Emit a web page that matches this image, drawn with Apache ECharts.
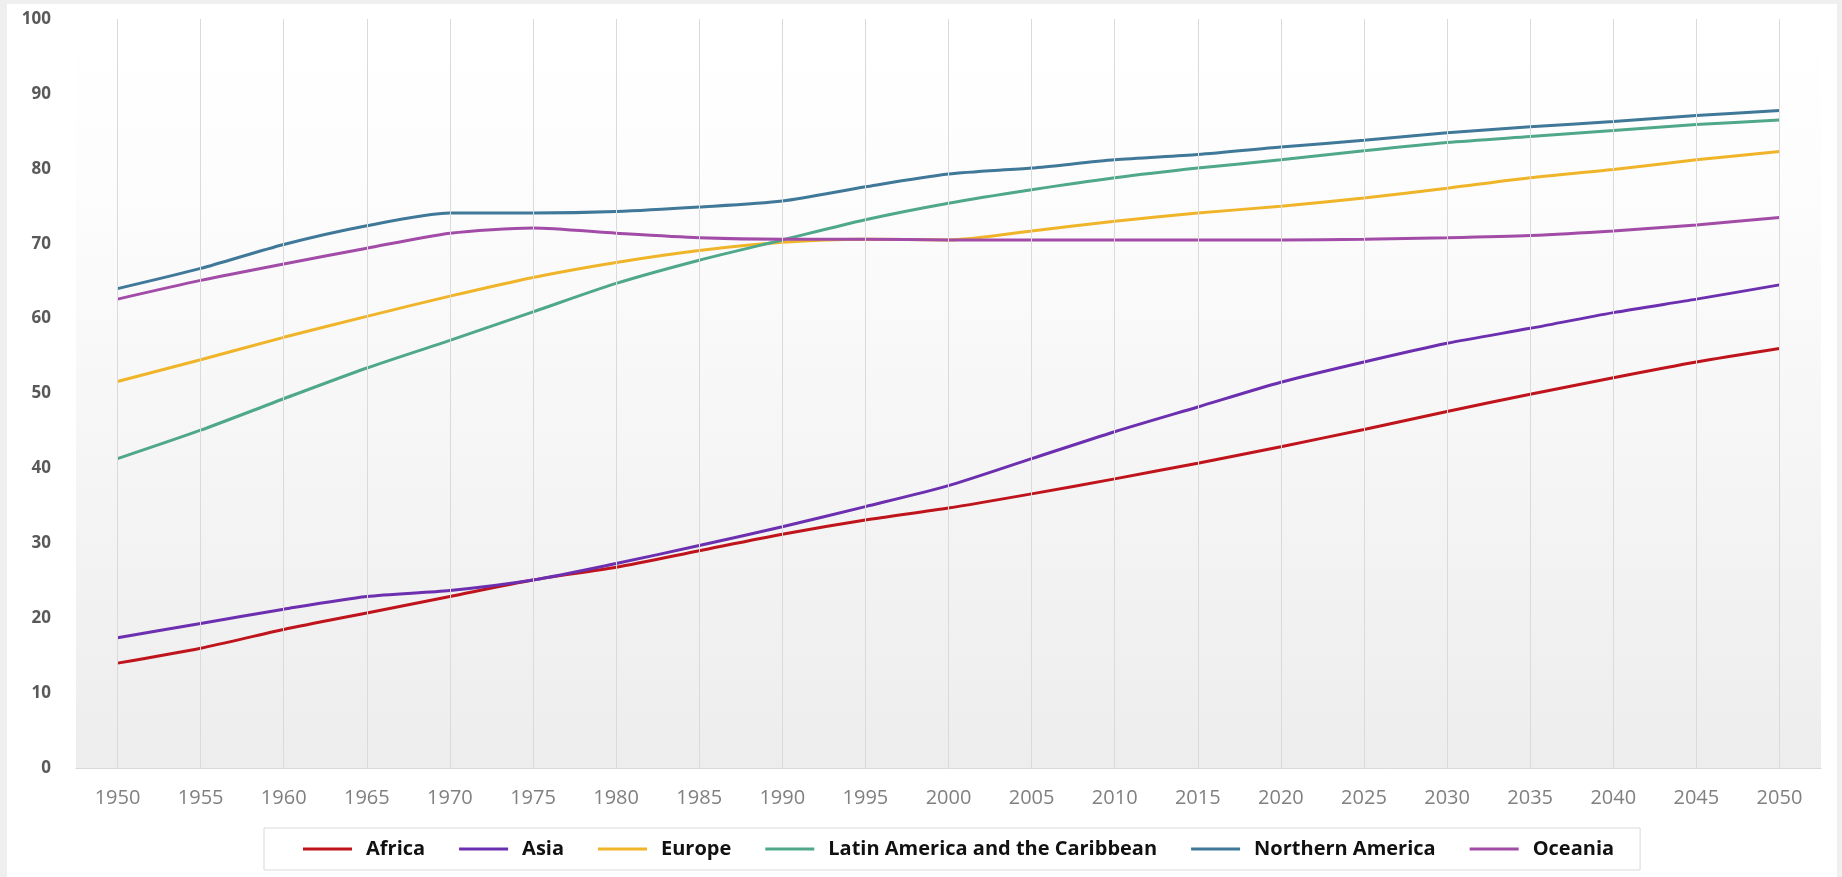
<!DOCTYPE html>
<html>
<head>
<meta charset="utf-8">
<script src="https://cdn.jsdelivr.net/npm/echarts@6/dist/echarts.min.js"></script>
<style>
  html, body { margin: 0; padding: 0; width: 1842px; height: 877px; background: #efefef; overflow: hidden; }
  #panel { position: absolute; left: 7px; top: 4px; width: 1830px; height: 873px; background: #ffffff; }
  #chart { position: absolute; left: 0; top: 0; width: 1842px; height: 877px; }
</style>
</head>
<body>
<div id="panel"></div>
<div id="chart"></div>
<script>
const years = ['1950','1955','1960','1965','1970','1975','1980','1985','1990','1995','2000','2005','2010','2015','2020','2025','2030','2035','2040','2045','2050'];
const yTicks = [0,10,20,30,40,50,60,70,80,90,100];
const africa   = [14.0,16.0,18.5,20.7,22.9,25.1,26.8,29.0,31.2,33.1,34.7,36.6,38.6,40.7,42.9,45.2,47.6,49.9,52.1,54.2,56.0];
const asia     = [17.4,19.3,21.2,22.9,23.7,25.1,27.3,29.7,32.2,34.9,37.7,41.3,44.9,48.2,51.5,54.2,56.7,58.7,60.8,62.6,64.5];
const europe   = [51.6,54.5,57.5,60.3,63.0,65.5,67.5,69.1,70.2,70.6,70.5,71.7,73.0,74.1,75.0,76.1,77.4,78.8,79.9,81.2,82.3];
const latam    = [41.3,45.1,49.3,53.4,57.1,60.9,64.7,67.8,70.5,73.2,75.4,77.2,78.8,80.1,81.2,82.4,83.5,84.3,85.1,85.9,86.5];
const northAm  = [64.0,66.7,69.9,72.4,74.1,74.1,74.3,74.9,75.7,77.6,79.3,80.1,81.2,81.9,82.9,83.8,84.8,85.6,86.3,87.1,87.8];
const oceania  = [62.6,65.1,67.3,69.4,71.4,72.1,71.4,70.8,70.6,70.6,70.5,70.5,70.5,70.5,70.5,70.6,70.8,71.1,71.7,72.5,73.5];

const seriesDefs = [
  { name: 'Africa', values: africa, color: '#c0141c' },
  { name: 'Asia', values: asia, color: '#6c2fb0' },
  { name: 'Europe', values: europe, color: '#f0b429' },
  { name: 'Latin America and the Caribbean', values: latam, color: '#4fa88a' },
  { name: 'Northern America', values: northAm, color: '#3f7898' },
  { name: 'Oceania', values: oceania, color: '#a24ca8' }
];

const chart = echarts.init(document.getElementById('chart'), null, { renderer: 'canvas' });

const gridSeries = {
  name: '__grid',
  type: 'line',
  z: 1,
  silent: true,
  data: years.map(() => null),
  symbol: 'none',
  lineStyle: { width: 0 },
  markLine: {
    silent: true,
    symbol: 'none',
    animation: false,
    label: { show: false },
    lineStyle: { color: '#dadada', width: 1, type: 'solid' },
    emphasis: { disabled: true },
    data: years.map(y => ({ xAxis: y }))
  }
};

chart.setOption({
  backgroundColor: 'transparent',
  animation: false,
  grid: {
    left: 76, right: 21, top: 19, bottom: 109,
    show: true,
    borderWidth: 0,
    backgroundColor: new echarts.graphic.LinearGradient(0, 0, 0, 1, [
      { offset: 0, color: '#ffffff' },
      { offset: 0.2, color: '#fdfdfd' },
      { offset: 1, color: '#ededed' }
    ])
  },
  xAxis: {
    type: 'category',
    data: years,
    boundaryGap: true,
    axisLine: { show: true, lineStyle: { color: '#d9d9d9', width: 1 } },
    axisTick: { show: false },
    splitLine: { show: false },
    axisLabel: {
      interval: 0, margin: 20, color: '#808080', fontSize: 20, fontFamily: 'Open Sans'
    }
  },
  yAxis: {
    type: 'value',
    min: yTicks[0], max: yTicks[yTicks.length - 1], interval: 10,
    axisLine: { show: false },
    axisTick: { show: false },
    splitLine: { show: false },
    axisLabel: { margin: 25, color: '#595959', fontSize: 17, fontWeight: 'bold', fontFamily: 'Open Sans' }
  },
  legend: {
    bottom: 7,
    left: 264,
    itemWidth: 49, itemHeight: 3, itemGap: 34,
    padding: [11, 26, 11, 39],
    borderColor: '#d9d9d9', borderWidth: 1, backgroundColor: '#ffffff',
    icon: 'rect',
    textStyle: { color: '#111', fontSize: 20, fontWeight: 'bold', fontFamily: 'Open Sans', padding: [0, 0, 0, 9] },
    data: seriesDefs.map(s => s.name)
  },
  series: [gridSeries].concat(seriesDefs.map(s => ({
    name: s.name,
    type: 'line',
    z: 3,
    data: s.values,
    smooth: 0.25,
    symbol: 'none',
    lineStyle: { color: s.color, width: 3 },
    itemStyle: { color: s.color }
  })))
});
</script>
</body>
</html>
